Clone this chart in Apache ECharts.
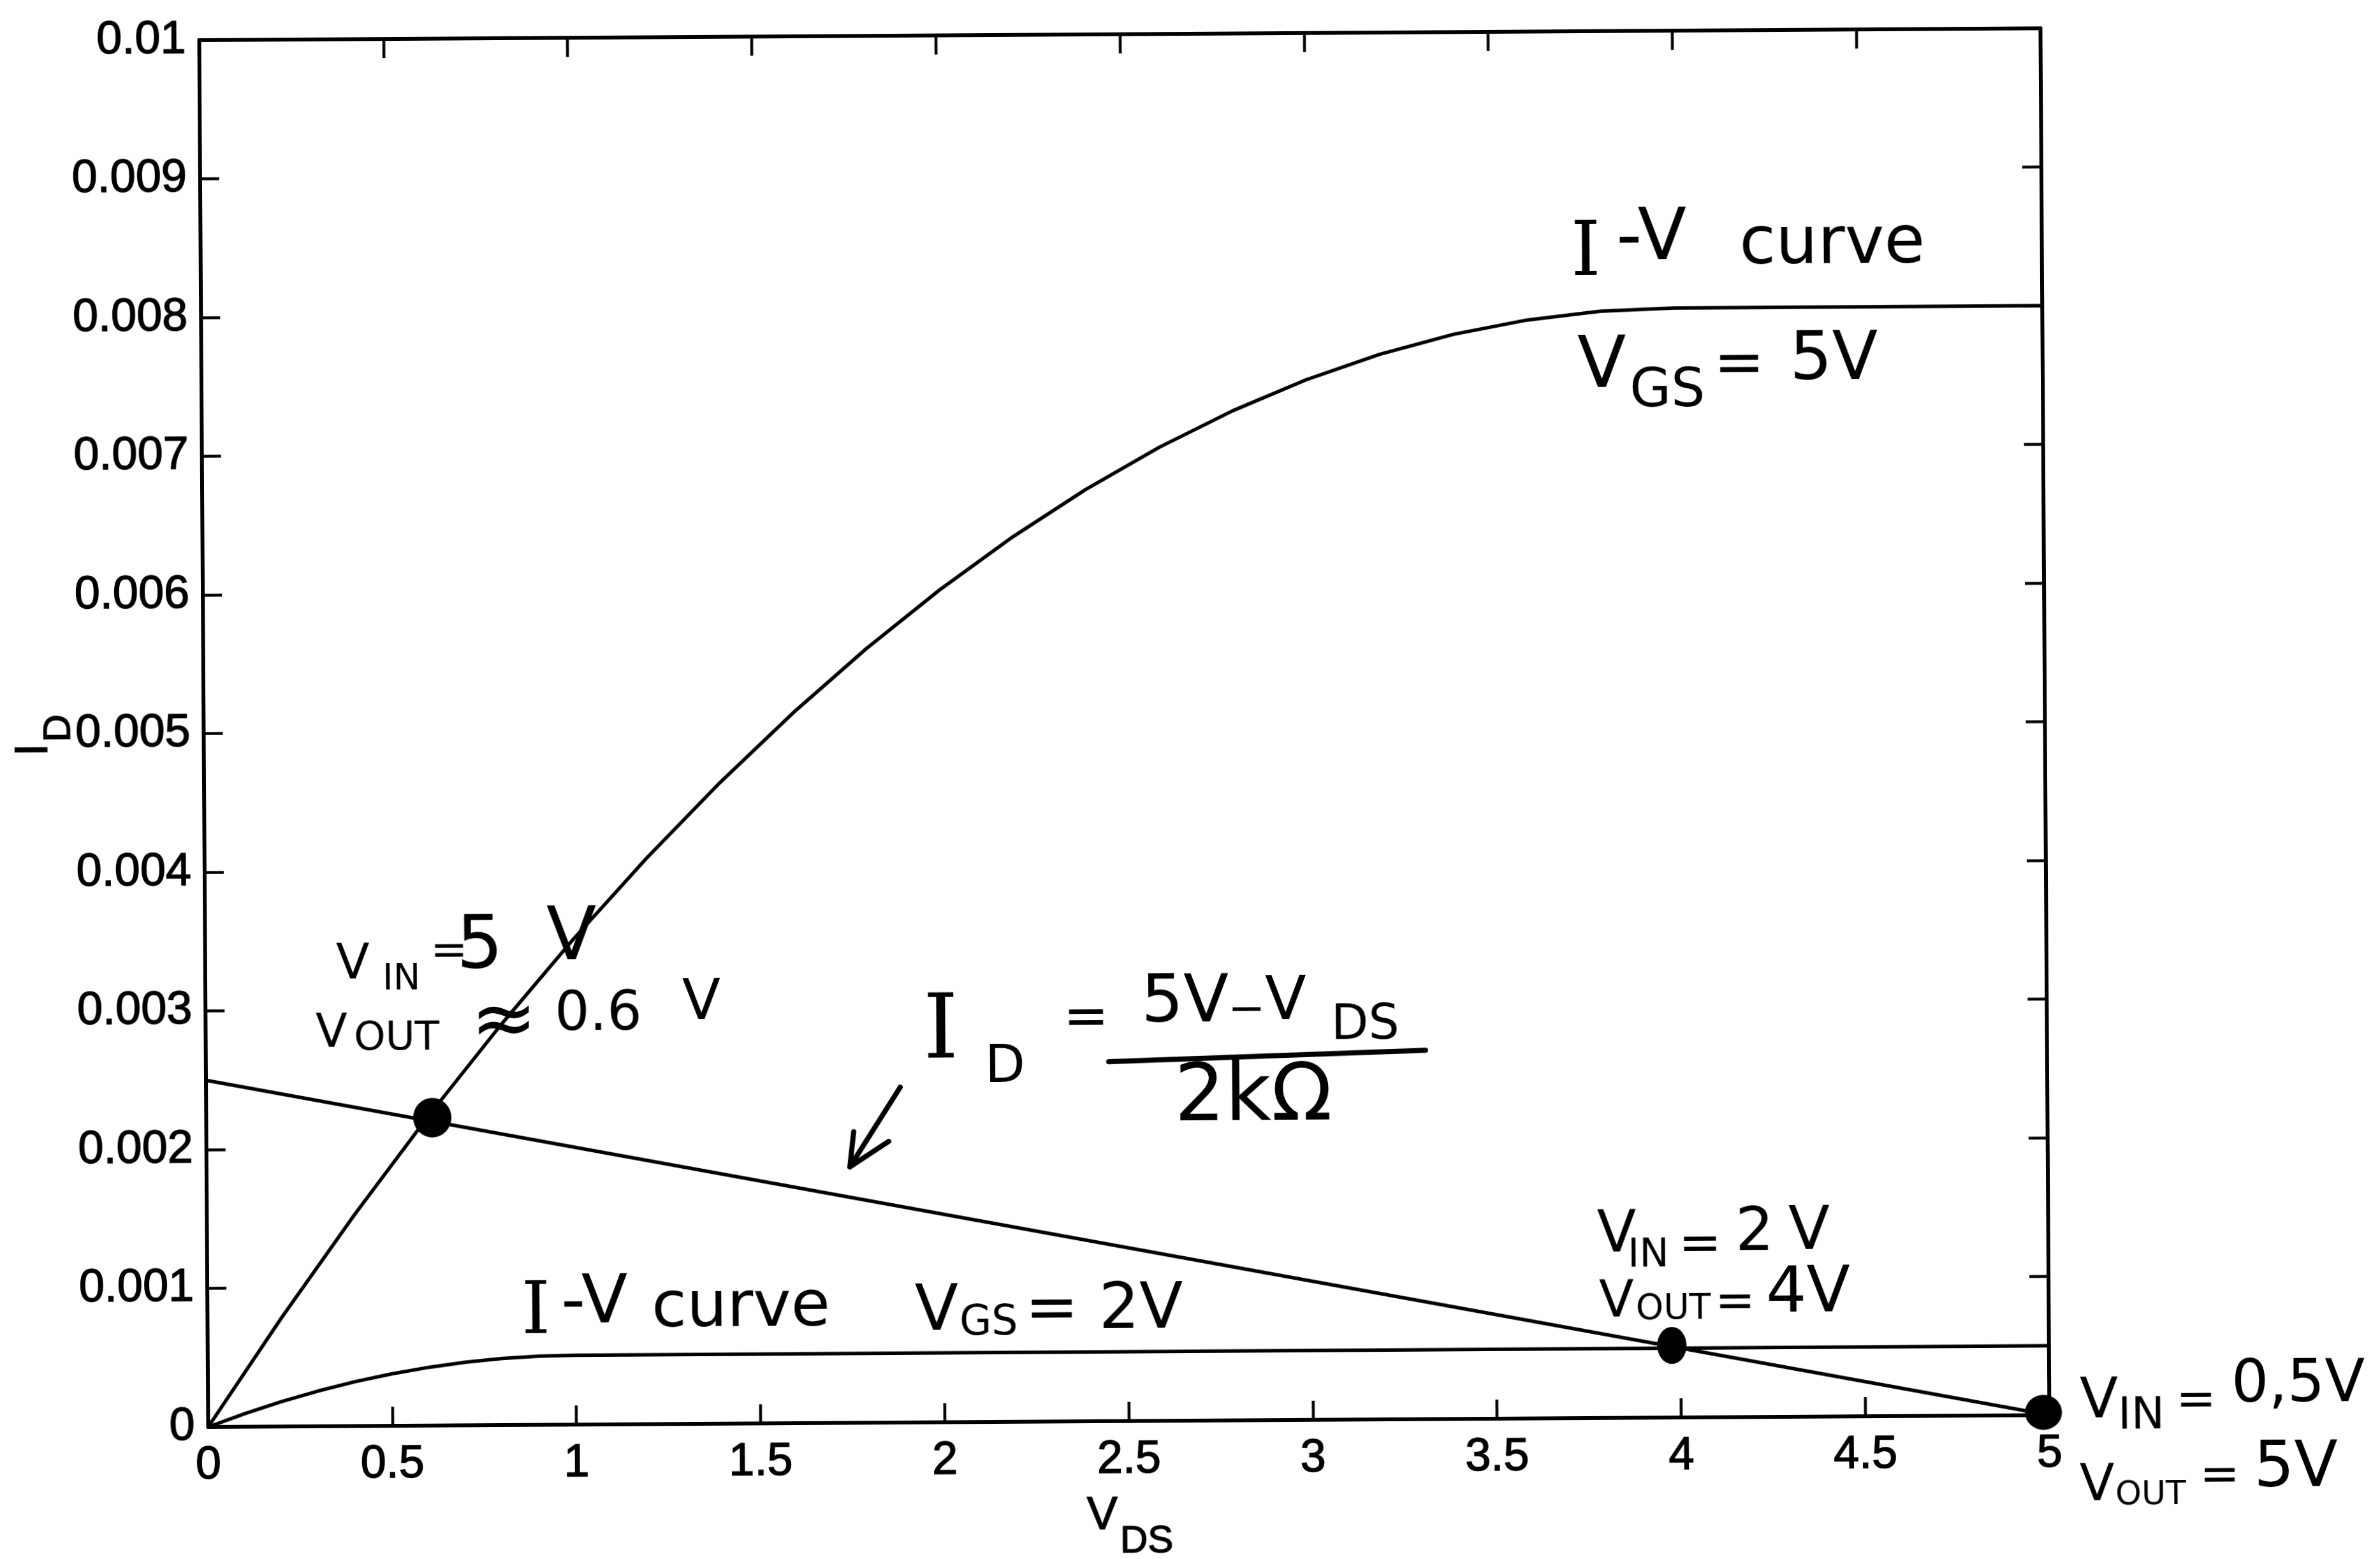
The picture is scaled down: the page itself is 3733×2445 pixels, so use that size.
<!DOCTYPE html>
<html>
<head>
<meta charset="utf-8">
<script src="https://cdn.jsdelivr.net/npm/echarts/dist/echarts.min.js"></script>
<style>
html,body{margin:0;padding:0;overflow:hidden;background:#fff;}
#main{width:3733px;height:2445px;transform:rotate(-0.37deg);transform-origin:50% 50%;background:#fff;}
</style>
</head>
<body>
<div id="main"></div>
<script>
// ---------------- data ----------------
// I-V curve, VGS = 5 V
const vds5 = [0, 0.2, 0.4, 0.6, 0.8, 1.0, 1.2, 1.4, 1.6, 1.8, 2.0, 2.2, 2.4, 2.6, 2.8, 3.0, 3.2, 3.4, 3.6, 3.8, 4.0, 5.0];
const id5  = [0, 0.00078, 0.00152, 0.00222, 0.00288, 0.0035, 0.00408, 0.00462, 0.00512, 0.00558, 0.006,
              0.00638, 0.00672, 0.00702, 0.00728, 0.0075, 0.00768, 0.00782, 0.00792, 0.00798, 0.008, 0.008];
// I-V curve, VGS = 2 V
const vds2 = [0, 0.1, 0.2, 0.3, 0.4, 0.5, 0.6, 0.7, 0.8, 0.9, 1.0, 5.0];
const id2  = [0, 0.000095, 0.00018, 0.000255, 0.00032, 0.000375, 0.00042, 0.000455, 0.00048, 0.000495, 0.0005, 0.0005];
// load line  I_D = (5V - V_DS) / 2k
const loadV = [0, 5];
const loadI = [0.0025, 0];
// operating points (hand-drawn dots)
const opV = [0.614, 3.976, 4.984];
const opI = [0.00222, 0.00052, 0.00002];
// tick labels
const xTickLabels = ['0', '0.5', '1', '1.5', '2', '2.5', '3', '3.5', '4', '4.5', '5'];
const yTickLabels = ['0', '0.001', '0.002', '0.003', '0.004', '0.005', '0.006', '0.007', '0.008', '0.009', '0.01'];

// ---------------- layout / style ----------------
const dotSizes = [[60, 62], [46, 58], [58, 55]];
const ROT_DEG = -0.37;               // the scanned page is slightly rotated
const CX = 3733 / 2, CY = 2445 / 2;
function ref(x, y) {                 // picture pixel -> unrotated chart pixel
  const a = -ROT_DEG * Math.PI / 180;
  const dx = x - CX, dy = y - CY;
  return [CX + dx * Math.cos(a) - dy * Math.sin(a), CY + dx * Math.sin(a) + dy * Math.cos(a)];
}
const S = 'DejaVu Sans', R = 'DejaVu Serif', A = 'Liberation Sans';
// handwritten notes: [text, left x, centre y, font size, family] in picture pixels
const notes = [
  ['I', 2464, 400, 118, R], ['-V', 2535, 378, 112, S], ['curve', 2728, 386, 104, S],
  ['V', 2474, 578, 112, S], ['GS', 2556, 616, 84, S], ['=', 2688, 575, 95, S], ['5V', 2807, 568, 105, S],

  ['V', 527, 1515, 77, S], ['IN', 600, 1537, 57, S], ['=', 675, 1495, 70, S], ['5', 716, 1488, 115, S], ['V', 857, 1475, 115, S],
  ['V', 495, 1623, 73, S], ['OUT', 555, 1630, 63, S], ['\u2248', 738, 1607, 125, S], ['0.6', 870, 1593, 86, S], ['V', 1070, 1575, 88, S],

  ['I', 1448, 1622, 140, R], ['D', 1545, 1676, 82, S], ['=', 1668, 1600, 85, S],
  ['5V', 1790, 1575, 104, S], ['\u2212', 1926, 1586, 70, S], ['V', 1984, 1574, 95, S], ['DS', 2088, 1610, 76, S],
  ['2k\u03A9', 1842, 1725, 125, S],

  ['I', 818, 2061, 115, R], ['-V', 880, 2047, 106, S], ['curve', 1022, 2054, 100, S],
  ['V', 1435, 2060, 100, S], ['GS', 1505, 2076, 65, S], ['= 2V', 1608, 2058, 100, S],

  ['V', 2505, 1940, 90, S], ['IN', 2553, 1970, 62, S], ['=', 2633, 1955, 80, S], ['2', 2722, 1936, 95, S], ['V', 2805, 1934, 95, S],
  ['V', 2508, 2044, 80, S], ['OUT', 2566, 2054, 55, S], ['=', 2690, 2045, 75, S], ['4V', 2770, 2031, 100, S],

  ['V', 3262, 2200, 88, S], ['IN', 3322, 2222, 70, S], ['=', 3413, 2200, 75, S], ['0,5V', 3500, 2175, 92, S],
  ['V', 3262, 2332, 80, S], ['OUT', 3318, 2346, 52, S], ['=', 3450, 2317, 75, S], ['5V', 3535, 2305, 100, S],

  // axis titles
  ['V', 1705, 2378, 72, A], ['DS', 1757, 2418, 60, A]
];
// rotated y-axis title pieces: [text, centre x, centre y, size]
const yTitle = [['I', 54, 1176, 72], ['D', 93, 1142, 60]];
// pen strokes: fraction bar and arrow
const strokes = [
  [[1739, 1665], [2236, 1647]],
  [[1412, 1705], [1333, 1830]],
  [[1339, 1775], [1333, 1830], [1394, 1790]]
];

const graphic = [];
notes.forEach(n => {
  const p = ref(n[1], n[2]);
  const st = { text: n[0], fontSize: n[3], fontFamily: n[4], fill: '#000', align: 'left', verticalAlign: 'middle' };
  if (n[4] === A) { st.stroke = '#000'; st.lineWidth = 1.5; }
  graphic.push({ type: 'text', x: p[0], y: p[1], z: 100, style: st });
});
yTitle.forEach(n => {
  const p = ref(n[1], n[2]);
  graphic.push({ type: 'text', x: p[0], y: p[1], rotation: Math.PI / 2, z: 100,
    style: { text: n[0], fontSize: n[3], fontFamily: A, fill: '#000', align: 'center', verticalAlign: 'middle',
             stroke: '#000', lineWidth: 1.5 } });
});
strokes.forEach(s => {
  graphic.push({ type: 'polyline', z: 100, shape: { points: s.map(q => ref(q[0], q[1])) },
    style: { stroke: '#000', lineWidth: 8, fill: null, lineCap: 'round', lineJoin: 'round' } });
});

const axisLine = { onZero: false, lineStyle: { color: '#000', width: 6 } };
const axisTick = { inside: true, length: 30, lineStyle: { color: '#000', width: 4.5 } };
const lbl = { fontSize: 72, fontFamily: A, color: '#000', textBorderColor: '#000', textBorderWidth: 1.5 };
const lineStyle = { color: '#000', width: 5.5 };

const chart = echarts.init(document.getElementById('main'), null, { renderer: 'canvas' });
chart.setOption({
  animation: false,
  backgroundColor: '#fff',
  grid: { left: 320, right: 525, top: 53, bottom: 217 },
  xAxis: [
    { type: 'value', min: 0, max: 5, interval: 0.5, position: 'bottom', axisLine, axisTick,
      axisLabel: Object.assign({ margin: 25, showMinLabel: true, showMaxLabel: true,
        formatter: v => xTickLabels[Math.round(v / 0.5)] }, lbl),
      splitLine: { show: false } },
    { type: 'value', min: 0, max: 5, interval: 0.5, position: 'top', axisLine, axisTick,
      axisLabel: { show: false }, splitLine: { show: false } }
  ],
  yAxis: [
    { type: 'value', min: 0, max: 0.01, interval: 0.001, position: 'left', axisLine, axisTick,
      axisLabel: Object.assign({ margin: 21, showMinLabel: true, showMaxLabel: true,
        formatter: v => yTickLabels[Math.round(v / 0.001)] }, lbl),
      splitLine: { show: false } },
    { type: 'value', min: 0, max: 0.01, interval: 0.001, position: 'right', axisLine, axisTick,
      axisLabel: { show: false }, splitLine: { show: false } }
  ],
  series: [
    { name: 'VGS = 5V', type: 'line', data: vds5.map((v, i) => [v, id5[i]]), showSymbol: false, lineStyle, z: 3 },
    { name: 'VGS = 2V', type: 'line', data: vds2.map((v, i) => [v, id2[i]]), showSymbol: false, lineStyle, z: 3 },
    { name: 'Load line', type: 'line', data: loadV.map((v, i) => [v, loadI[i]]), showSymbol: false, lineStyle, z: 3 },
    { name: 'Operating points', type: 'scatter', data: opV.map((v, i) => [v, opI[i]]),
      symbol: 'circle', symbolSize: (val, p) => dotSizes[p.dataIndex], itemStyle: { color: '#000', opacity: 1 }, z: 5 }
  ],
  graphic
});
</script>
</body>
</html>
